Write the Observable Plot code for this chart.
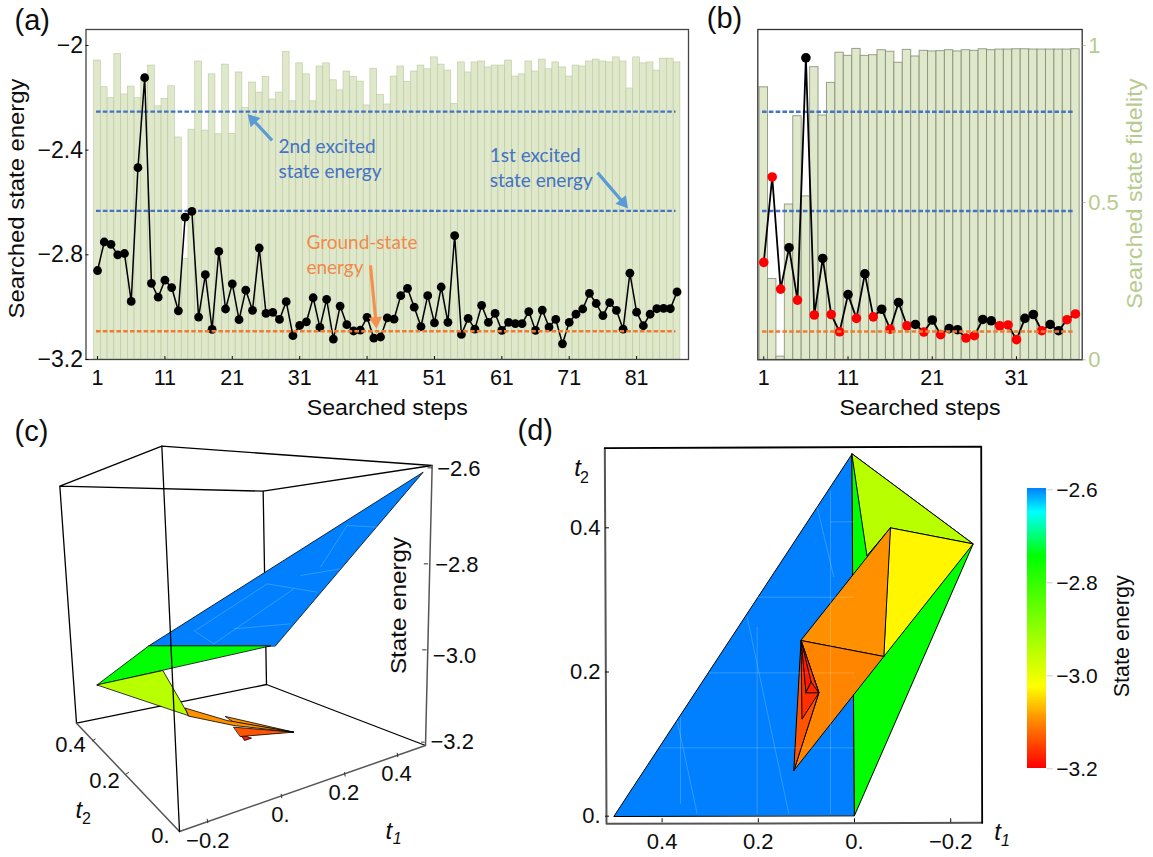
<!DOCTYPE html>
<html>
<head>
<meta charset="utf-8">
<script src="https://cdn.jsdelivr.net/npm/d3@7"></script>
<script src="https://cdn.jsdelivr.net/npm/@observablehq/plot@0.6"></script>
<style>
html,body{margin:0;padding:0;background:#fff;}
#page{position:relative;width:1153px;height:857px;overflow:hidden;}
#page svg{position:absolute;overflow:visible;background:transparent;}
</style>
</head>
<body>
<div id="page"></div>
<script>
// ---------- panel (a) ----------
const energyA = [-2.860,-2.751,-2.760,-2.800,-2.795,-2.978,-2.467,-2.123,-2.909,-2.962,-2.897,-2.925,-3.014,-2.656,-2.634,-3.038,-2.876,-3.085,-2.787,-3.007,-2.911,-3.048,-2.935,-3.012,-2.774,-3.024,-3.020,-3.047,-2.979,-3.109,-3.070,-3.056,-2.964,-3.077,-2.970,-3.122,-2.996,-3.067,-3.091,-3.088,-3.039,-3.118,-3.114,-3.041,-3.046,-2.956,-2.928,-3.000,-3.074,-2.956,-3.060,-2.923,-3.058,-2.727,-3.104,-3.043,-3.084,-2.993,-3.058,-3.024,-3.089,-3.058,-3.063,-3.063,-3.017,-3.089,-3.011,-3.076,-3.047,-3.140,-3.058,-3.027,-3.007,-2.947,-2.986,-3.032,-2.983,-3.012,-3.084,-2.870,-3.019,-3.071,-3.027,-3.006,-3.005,-3.006,-2.942];
const fidelityA = [.952,.867,.832,.973,.844,.869,.832,.897,.936,.806,.830,.870,.707,.32,.732,.949,.729,.908,.717,.939,.718,.914,.801,.882,.850,.899,.828,.850,.979,.822,.943,.908,.822,.933,.943,.889,.857,.917,.899,.885,.809,.926,.843,.812,.901,.933,.884,.917,.936,.924,.962,.939,.920,.814,.946,.914,.946,.949,.930,.936,.936,.952,.901,.908,.949,.917,.955,.924,.946,.930,.901,.936,.933,.949,.955,.949,.946,.962,.949,.863,.962,.943,.946,.920,.958,.958,.946];
const ticksStepA = [1,11,21,31,41,51,61,71,81];
const ticksEnergyA = [-2,-2.4,-2.8,-3.2];
// ---------- panel (b) ----------
const energyB = [-2.828,-2.502,-2.930,-2.772,-2.972,-2.047,-3.029,-2.813,-3.027,-3.093,-2.951,-3.042,-2.872,-3.036,-3.007,-3.083,-2.981,-3.070,-3.065,-3.094,-3.048,-3.104,-3.081,-3.085,-3.117,-3.108,-3.046,-3.051,-3.070,-3.067,-3.123,-3.042,-3.027,-3.089,-3.065,-3.089,-3.047,-3.025];
const redB = [1,1,1,0,1,0,1,0,1,1,0,1,0,1,0,1,0,1,0,1,0,1,0,0,1,1,0,0,1,1,1,0,0,1,0,0,1,1];
const fidelityB = [.867,.257,.01,.494,.775,.520,.931,.777,.881,.977,.967,.989,.967,.969,.985,.980,.945,.986,.965,.983,.981,.982,.985,.981,.985,.983,.988,.985,.987,.987,.988,.988,.987,.987,.987,.987,.987,.988];
const ticksStepB = [1,11,21,31];
const fidelityTicks = [0,0.5,1];
// reference energies
const secondExcited = -2.253, firstExcited = -2.632, groundEnergy = -3.092;
// ---------- state-energy colour scale ----------
const colorEnergies = [-3.2,-3.096,-3.024,-2.745,-2.65,-2.6];
const colorStops = ["#ff0000","#ff9000","#ffff00","#00ff00","#00ffff","#0080ff"];
const colorbarTicks = [-2.6,-2.8,-3.0,-3.2];
// ---------- panel (d): faces over (t1,t2) ----------
const P = {A:[.500,0],B:[.005,.5025],C:[0,.001],D:[-.2467,.3777],E:[-.0748,.3999],F:[-.0263,.3615],G:[-.061,.2215],H:[.1109,.2436],I:[.1261,.0633],J:[.0741,.1711],K:[.1088,.135],L:[.1005,.1711],M:[.0901,.1859]};
const dFaces = [
  {energy:-2.6,  pts:"ABC"},
  {energy:-2.745,pts:"BDC"},
  {energy:-2.946,pts:"BDEF"},
  {energy:-3.03, pts:"EDG"},
  {energy:-3.096,pts:"EGH"},
  {energy:-3.104,pts:"HGIJ"},
  {energy:-3.139,pts:"HJI"},
  {energy:-3.165,pts:"HJK"},
  {energy:-3.18, pts:"HML"},
  {energy:-3.175,pts:"MJL"}
];
const dMesh = [[.0499,.4517,.0499,.0032],[.2024,.2621,.2024,.0032],[.3617,.1373,.3617,.0171],[.05,.4082,0,.4082],[.2024,.3037,0,.3037],[.3028,.1988,0,.1988],[.4033,.0948,0,.0948],[.2231,.276,.1365,.0032],[.3687,.1327,.3271,.0032],[.0776,.4286,.043,.3315]];
const dTopEdge = [[.5191,.5104],[-.2634,.5127],[-.2654,-.0092]];
const dOtherEdge = [[-.2654,-.0092],[.5156,-.0106],[.5191,.5104]];
const ticksT1 = [0.4,0.2,0,-0.2];
const ticksT2 = [0.4,0.2,0];
// ---------- panel (c): faces in the picture's own 3-D view coordinates ----------
const cFaces = [
  {energy:-2.6,  pts:[[445,706],[1268,185],[825,706]]},
  {energy:-2.745,pts:[[290,823],[445,706],[810,706]]},
  {energy:-2.946,pts:[[290,823],[487,780],[565,915]]},
  {energy:-3.18, pts:[[710,955],[732,990],[753,983],[730,975]]},
  {energy:-3.139,pts:[[700,950],[880,965],[720,978]]},
  {energy:-3.096,pts:[[675,918],[880,965],[700,935]]},
  {energy:-3.096,pts:[[555,893],[680,930],[880,965],[700,945],[565,917]]}
];
const cMesh = [[585,660,800,520],[800,520,950,545],[900,495,1020,475],[700,655,870,640],[640,700,880,535],[1040,345,1130,350],[580,660,640,700],[1040,345,960,470]];
const cBackEdges = [[[178,227],[484,107],[1295,165],[788,242],[178,227],[228,938],[798,822],[1275,1005]],[[788,242],[798,822]]];
const cFrontEdge = [[484,107],[537,1263]];
const cAxes = [[[228,938],[537,1263],[1275,1005],[1295,165]]];
const cTicks = [[1295,172,1281,172],[1283,460,1270,460],[1278,718,1265,718],[1272,995,1262,995],[620,1225,622,1238],[842,1150,844,1163],[1032,1085,1034,1098],[1190,1027,1192,1040],[285,985,275,992],[385,1085,375,1092]];
const cLabelsZ = [
  {text:"−2.6",x:1310,y:175},{text:"−2.8",x:1304,y:464},{text:"−3.0",x:1297,y:735},{text:"−3.2",x:1290,y:995}
];
const cLabelsT = [
  {text:"−0.2",x:622,y:1290},{text:"0.",x:840,y:1213},{text:"0.2",x:1030,y:1146},{text:"0.4",x:1188,y:1090},
  {text:"0.",x:480,y:1275},{text:"0.2",x:312,y:1110},{text:"0.4",x:210,y:1003}
];
// annotation arrows of (a): tail -> head, in (step, energy)
const arrowsBlue = [{a:26.9,b:-2.363,c:24.06,d:-2.284,angle:-43},{a:75.2,b:-2.486,c:79.0,d:-2.600,angle:140.5}];
const arrowsOrange = [{a:41.5,b:-2.84,c:42.3,d:-3.053,angle:174.4}];

// ---------- shared style ----------
const FONT = '"Liberation Sans", Arial, sans-serif';
const INK = "#0d0d0d";
const BLUE = "#4472c4", ORANGE = "#ed7d31", BARFILL = "#dfe8cb", GREENTXT = "#b7cb8f";
const energyFmt = d3.format(".1~f");
const color = {type:"linear", domain:colorEnergies, range:colorStops, interpolate:"rgb", legend:false};
const fid2energy = f => -3.2 + 1.2 * f;   // both y axes of (a),(b) share the frame: 0..1 <-> -3.2..-2
const rows = (arr) => arr.map((e, i) => ({n:i + 1, e}));
const bars = (arr) => arr.map((f, i) => ({n:i + 1, f, top:fid2energy(f)}));
const seg = ([x1,y1,x2,y2]) => ({x1,y1,x2,y2});
const page = document.getElementById("page");
function place(svg, left, top, stretch) {
  svg.style.left = left + "px"; svg.style.top = top + "px";
  if (stretch) svg.querySelectorAll("text").forEach(t => {
    const s = stretch[t.textContent];
    if (s) { t.setAttribute("textLength", s); t.setAttribute("lengthAdjust","spacingAndGlyphs"); }
  });
  page.appendChild(svg);
}
const label = (s, o) => Plot.text([s], {text:d => d, fill:INK, textAnchor:"middle", lineAnchor:"middle", ...o});
const DASH = {strokeWidth:2.4, strokeDasharray:"4.6,2.2"};
const arrow = (data, col) => [
  Plot.link(data, {x1:"a", y1:"b", x2:"c", y2:"d", stroke:col, strokeWidth:3.2}),
  Plot.dot(data, {x:"c", y:"d", symbol:"triangle", r:5, rotate:"angle", fill:col, stroke:"none"})
];

// ---------- (a) ----------
place(Plot.plot({
  width:700, height:420, marginLeft:85.5, marginRight:12, marginTop:29, marginBottom:61,
  style:{fontFamily:FONT, background:"transparent"},
  x:{domain:[-0.71,88.7], axis:null}, y:{domain:[-3.2,-1.939], axis:null},
  marks:[
    Plot.rect(bars(fidelityA), {x1:d=>d.n-.5, x2:d=>d.n+.5, y1:-3.2, y2:"top", fill:BARFILL, stroke:"#b9c99c", strokeWidth:.6}),
    Plot.ruleY([secondExcited, firstExcited], {x1:.85, x2:86.85, stroke:BLUE, ...DASH}),
    Plot.line(rows(energyA), {x:"n", y:"e", stroke:"#000", strokeWidth:1.5}),
    Plot.dot(rows(energyA), {x:"n", y:"e", r:4.4, fill:"#000", stroke:"none"}),
    Plot.ruleY([groundEnergy], {x1:.85, x2:86.85, stroke:ORANGE, ...DASH}),
    arrow(arrowsBlue, "#5b9bd5"),
    arrow(arrowsOrange, "#f4914f"),
    Plot.text(["2nd excited\nstate energy"], {x:27.85, y:-2.428, text:d=>d, textAnchor:"start", fill:BLUE, fontFamily:"Lato", fontSize:19, lineHeight:1.3}),
    Plot.text(["1st excited\nstate energy"], {x:59.2, y:-2.462, text:d=>d, textAnchor:"start", fill:BLUE, fontFamily:"Lato", fontSize:19, lineHeight:1.3}),
    Plot.text(["Ground-state\nenergy"], {x:32, y:-2.796, text:d=>d, textAnchor:"start", fill:"#f08a4b", fontFamily:"Lato", fontSize:19, lineHeight:1.3}),
    Plot.frame({stroke:"#444", strokeWidth:1.3}),
    Plot.axisX(ticksStepA, {anchor:"bottom", label:null, tickSize:-3, tickPadding:13, fontSize:21.5, color:INK, tickFormat:d=>d}),
    Plot.axisY(ticksEnergyA, {anchor:"left", label:null, tickSize:-3, tickPadding:6, fontSize:23, color:INK, tickFormat:energyFmt}),
    label("Searched steps", {frameAnchor:"bottom", dy:48, fontSize:22}),
    label("Searched state energy", {frameAnchor:"left", dx:-69.5, dy:4, rotate:-90, fontSize:22}),
    label("(a)", {frameAnchor:"top-left", dx:-71.5, dy:-9, textAnchor:"start", fontSize:29})
  ]
}), 0, 0, {"Searched state energy":240, "Searched steps":161});

// ---------- (b) ----------
place(Plot.plot({
  width:453, height:420, marginLeft:57.3, marginRight:71.3, marginTop:29, marginBottom:60.7,
  style:{fontFamily:FONT, background:"transparent"},
  x:{domain:[0.29,38.8], axis:null}, y:{domain:[-3.2,-1.939], axis:null},
  marks:[
    Plot.rect(bars(fidelityB), {x1:d=>d.n-.5, x2:d=>d.n+.5, y1:-3.2, y2:"top", fill:BARFILL, stroke:"#7f8a72", strokeOpacity:.8, strokeWidth:1}),
    Plot.ruleY([secondExcited, firstExcited], {x1:.85, x2:37.8, stroke:BLUE, ...DASH}),
    Plot.line(rows(energyB), {x:"n", y:"e", stroke:"#000", strokeWidth:1.8}),
    Plot.dot(rows(energyB), {x:"n", y:"e", r:4.8, fill:d=>redB[d.n-1] ? "#ff0000" : "#000", stroke:"none"}),
    Plot.ruleY([groundEnergy], {x1:.85, x2:37.8, stroke:ORANGE, ...DASH}),
    Plot.frame({stroke:"#333", strokeWidth:1.3}),
    Plot.axisX(ticksStepB, {anchor:"bottom", label:null, tickSize:-3, tickPadding:13, fontSize:21.5, color:INK, tickFormat:d=>d}),
    Plot.axisY(fidelityTicks.map(fid2energy), {anchor:"right", label:null, tickSize:3, tickPadding:3, fontSize:22, color:GREENTXT, tickFormat:d=>d3.format(".1~f")((d+3.2)/1.2)}),
    label("Searched steps", {frameAnchor:"bottom", dy:48, fontSize:22}),
    label("Searched state fidelity", {frameAnchor:"right", dx:53, dy:-1, rotate:-90, fontSize:22, fill:GREENTXT}),
    label("(b)", {frameAnchor:"top-left", dx:-51, dy:-11, textAnchor:"start", fontSize:29})
  ]
}), 700, 0, {"Searched state fidelity":230, "Searched steps":161});

// ---------- (c) ----------
const cRows = cFaces.flatMap((f,id) => f.pts.map(([x,y]) => ({id, energy:f.energy, x, y})));
const cPath = (arr) => arr.flatMap((line,id) => line.map(([x,y]) => ({id,x,y})));
place(Plot.plot({
  width:480, height:447, margin:0, style:{fontFamily:FONT, background:"transparent"},
  x:{domain:[0,1440], axis:null}, y:{domain:[1341,0], axis:null}, color,
  marks:[
    Plot.line(cPath(cBackEdges), {x:"x", y:"y", z:"id", stroke:"#000", strokeWidth:1.3}),
    Plot.line(cPath(cAxes), {x:"x", y:"y", z:"id", stroke:"#555", strokeWidth:1.5}),
    Plot.link(cTicks.map(seg), {x1:"x1",y1:"y1",x2:"x2",y2:"y2", stroke:"#333", strokeWidth:1}),
    Plot.line(cRows, {x:"x", y:"y", z:"id", fill:"energy", stroke:"#000", strokeWidth:.8, curve:"linear-closed"}),
    Plot.link(cMesh.map(seg), {x1:"x1",y1:"y1",x2:"x2",y2:"y2", stroke:"#fff", strokeOpacity:.2, strokeWidth:1}),
    Plot.line(cFrontEdge.map(([x,y]) => ({x,y})), {x:"x", y:"y", stroke:"#000", strokeWidth:1.3}),
    Plot.text(cLabelsZ, {x:"x", y:"y", text:"text", textAnchor:"start", fontSize:22, fill:INK}),
    Plot.text(cLabelsT, {x:"x", y:"y", text:"text", textAnchor:"middle", fontSize:22, fill:INK}),
    label("State energy", {x:1195, y:585, rotate:-90, fontSize:22}),
    label("t", {x:235, y:1200, fontSize:24, fontStyle:"italic"}),
    label("2", {x:258, y:1224, fontSize:16}),
    label("t", {x:1165, y:1262, fontSize:24, fontStyle:"italic"}),
    label("1", {x:1190, y:1286, fontSize:16, fontStyle:"italic"}),
    label("(c)", {x:42, y:65, textAnchor:"start", fontSize:29})
  ]
}), 0, 410, {"State energy":137});

// ---------- (d) ----------
const dRows = dFaces.flatMap((f,id) => [...f.pts].map(k => ({id, energy:f.energy, t1:P[k][0], t2:P[k][1]})));
place(Plot.plot({
  width:500, height:447, marginLeft:105, marginRight:19, marginTop:37.7, marginBottom:34.7,
  style:{fontFamily:FONT, background:"transparent"},
  x:{domain:[.5177,-.264], axis:null}, y:{domain:[-.00915,.5104], axis:null}, color,
  marks:[
    Plot.line(dRows, {x:"t1", y:"t2", z:"id", fill:"energy", stroke:"#000", strokeWidth:1, curve:"linear-closed"}),
    Plot.link(dMesh.map(seg), {x1:"x1",y1:"y1",x2:"x2",y2:"y2", stroke:"#fff", strokeOpacity:.2, strokeWidth:1}),
    Plot.line(dOtherEdge, {x:d=>d[0], y:d=>d[1], stroke:"#555", strokeWidth:2}),
    Plot.line(dTopEdge, {x:d=>d[0], y:d=>d[1], stroke:"#000", strokeWidth:1.8}),
    Plot.axisX(ticksT1, {anchor:"bottom", label:null, tickSize:-4, tickPadding:15, fontSize:22, color:INK, tickFormat:d=>d===0?"0.":energyFmt(d)}),
    Plot.axisY(ticksT2, {anchor:"left", label:null, tickSize:-4, tickPadding:9, fontSize:22, color:INK, tickFormat:d=>d===0?"0.":energyFmt(d)}),
    label("t", {frameAnchor:"top-left", dx:-28, dy:20, fontSize:24, fontStyle:"italic"}),
    label("2", {frameAnchor:"top-left", dx:-21, dy:30, fontSize:16}),
    label("t", {frameAnchor:"bottom-right", dx:16, dy:10, fontSize:24, fontStyle:"italic"}),
    label("1", {frameAnchor:"bottom-right", dx:24, dy:18, fontSize:16, fontStyle:"italic"}),
    label("(d)", {frameAnchor:"top-left", dx:-88, dy:-17, textAnchor:"start", fontSize:29})
  ]
}), 500, 410);

// ---------- colour bar ----------
place(Plot.plot({
  width:153, height:320, marginLeft:27.3, marginRight:107.3, marginTop:19.3, marginBottom:21.7,
  style:{fontFamily:FONT, background:"transparent"},
  x:{domain:[0,1], axis:null}, y:{domain:[-3.2,-2.6], axis:null}, color,
  marks:[
    Plot.rect(d3.range(0,280).map(i => -3.2 + i*0.6/280), {x1:0, x2:1, y1:d=>d, y2:d=>d+0.6/280+0.002, fill:d=>d, shapeRendering:"crispEdges"}),
    Plot.axisY(colorbarTicks, {anchor:"right", label:null, tickSize:6, tickPadding:4, fontSize:21, stroke:"#ccc", fill:INK, tickFormat:d3.format(".1f")}),
    label("State energy", {frameAnchor:"right", dx:76, dy:7, rotate:-90, fontSize:22})
  ]
}), 1000, 470, {"State energy":122});
</script>
</body>
</html>
